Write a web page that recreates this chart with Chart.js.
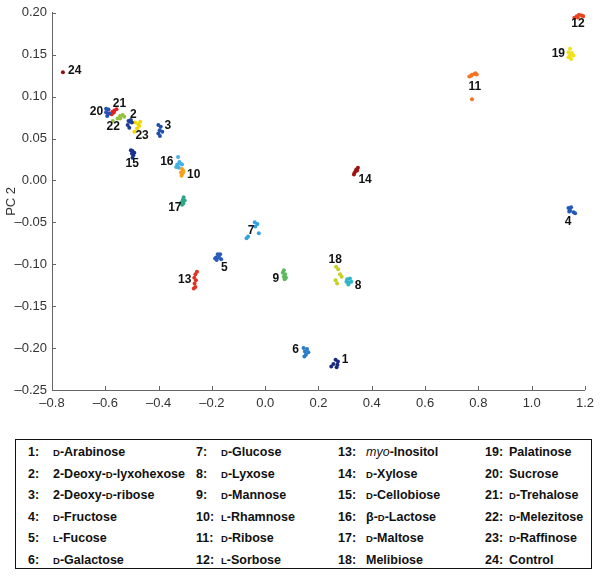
<!DOCTYPE html>
<html>
<head>
<meta charset="utf-8">
<script src="https://cdn.jsdelivr.net/npm/chart.js@4.4.0/dist/chart.umd.min.js"></script>
<style>
body { margin: 0; background: #fff; font-family: "Liberation Sans", Arial, sans-serif; }
#wrap { position: relative; width: 600px; height: 576px; }
#plot { position: absolute; left: 0; top: 0; }
#key { position: absolute; left: 15px; top: 439px; width: 575px; height: 128px; border: 1.5px solid #111;
       font-weight: bold; font-size: 12.5px; color: #111; }
#key span { position: absolute; white-space: nowrap; line-height: 16px; }
#key .sc { font-size: 9.5px; }
#key i { font-weight: normal; }
</style>
</head>
<body>
<div id="wrap">
  <canvas id="plot" width="600" height="430"></canvas>
  <div id="key"></div>
</div>
<script>
// sample names, in legend order (1..24)
var sugarNames = [
  "D-Arabinose", "2-Deoxy-D-lyxohexose", "2-Deoxy-D-ribose", "D-Fructose", "L-Fucose", "D-Galactose",
  "D-Glucose", "D-Lyxose", "D-Mannose", "L-Rhamnose", "D-Ribose", "L-Sorbose",
  "myo-Inositol", "D-Xylose", "D-Cellobiose", "β-D-Lactose", "D-Maltose", "Melibiose",
  "Palatinose", "Sucrose", "D-Trehalose", "D-Melezitose", "D-Raffinose", "Control"
];

var clusterColors = [
  "#1b2a80", "#1d3d9c", "#2050a8", "#2458b8", "#2a5cbc", "#2a7cc8",
  "#33a2e2", "#2fb4c8", "#5dba62", "#f5a21e", "#f77222", "#ea4420",
  "#e23322", "#a01414", "#1a3190", "#45b2e4", "#30a888", "#c6d020",
  "#f0e01c", "#2452b8", "#e22020", "#94c240", "#f2d800", "#901212"
];

// PC1 / PC2 scores, one array per sample
var s1  = [[0.264,-0.214],[0.273,-0.216],[0.256,-0.219],[0.271,-0.220],[0.248,-0.222],[0.268,-0.223]];
var s2  = [[-0.513,0.071],[-0.504,0.072],[-0.500,0.069],[-0.516,0.066],[-0.510,0.063],[-0.507,0.070]];
var s3  = [[-0.401,0.066],[-0.392,0.064],[-0.396,0.060],[-0.386,0.058],[-0.401,0.056],[-0.395,0.053]];
var s4  = [[1.138,-0.033],[1.148,-0.032],[1.144,-0.036],[1.157,-0.038],[1.163,-0.039],[1.141,-0.037]];
var s5  = [[-0.178,-0.088],[-0.169,-0.088],[-0.184,-0.092],[-0.173,-0.092],[-0.165,-0.094],[-0.182,-0.095],[-0.188,-0.093]];
var s6  = [[0.144,-0.200],[0.157,-0.201],[0.149,-0.204],[0.162,-0.205],[0.153,-0.208],[0.147,-0.210]];
var s7  = [[-0.039,-0.050],[-0.029,-0.052],[-0.037,-0.055],[-0.024,-0.063],[-0.064,-0.067],[-0.070,-0.069]];
var s8  = [[0.308,-0.118],[0.318,-0.117],[0.305,-0.121],[0.314,-0.122],[0.323,-0.121],[0.312,-0.124]];
var s9  = [[0.070,-0.107],[0.066,-0.110],[0.075,-0.112],[0.070,-0.115],[0.078,-0.116],[0.073,-0.118]];
var s10 = [[-0.312,0.0136],[-0.308,0.012],[-0.316,0.0096],[-0.310,0.008],[-0.314,0.0057],[-0.307,0.0104]];
var s11 = [[0.766,0.124],[0.776,0.126],[0.785,0.127],[0.794,0.1265],[0.773,0.125],[0.789,0.128],[0.776,0.097]];
var s12 = [[1.160,0.194],[1.169,0.196],[1.178,0.1976],[1.188,0.1968],[1.194,0.196],[1.173,0.1944]];
var s13 = [[-0.256,-0.109],[-0.262,-0.112],[-0.266,-0.116],[-0.260,-0.119],[-0.265,-0.123],[-0.262,-0.127],[-0.268,-0.129]];
var s14 = [[0.348,0.015],[0.342,0.013],[0.339,0.011],[0.335,0.009],[0.333,0.007],[0.345,0.012]];
var s15 = [[-0.504,0.036],[-0.498,0.035],[-0.491,0.033],[-0.500,0.032],[-0.495,0.030],[-0.498,0.027]];
var s16 = [[-0.327,0.028],[-0.322,0.022],[-0.330,0.019],[-0.318,0.020],[-0.334,0.016],[-0.324,0.015],[-0.312,0.019]];
var s17 = [[-0.306,-0.020],[-0.309,-0.023],[-0.302,-0.024],[-0.314,-0.026],[-0.307,-0.0275],[-0.312,-0.029]];
var s18 = [[0.266,-0.103],[0.274,-0.106],[0.281,-0.112],[0.287,-0.115],[0.264,-0.119],[0.270,-0.123]];
var s19 = [[1.144,0.157],[1.138,0.153],[1.151,0.152],[1.144,0.149],[1.157,0.149],[1.138,0.147],[1.148,0.145]];
var s20 = [[-0.597,0.0855],[-0.588,0.0847],[-0.597,0.0815],[-0.591,0.0795],[-0.593,0.0768],[-0.586,0.080]];
var s21 = [[-0.581,0.080],[-0.573,0.082],[-0.566,0.0835],[-0.558,0.085],[-0.576,0.079],[-0.568,0.081]];
var s22 = [[-0.572,0.071],[-0.554,0.074],[-0.545,0.077],[-0.535,0.078],[-0.529,0.076],[-0.544,0.074]];
var s23 = [[-0.488,0.069],[-0.469,0.070],[-0.473,0.065],[-0.481,0.062],[-0.491,0.058],[-0.476,0.067]];
var s24 = [[-0.759,0.129]];
var pcScores = [s1, s2, s3, s4, s5, s6, s7, s8, s9, s10, s11, s12,
                s13, s14, s15, s16, s17, s18, s19, s20, s21, s22, s23, s24];

// where each number label sits, in PC units
var labelAt = [
  [0.300,-0.2135], [-0.495,0.079], [-0.365,0.065], [1.137,-0.049], [-0.153,-0.1045], [0.1145,-0.2017],
  [-0.053,-0.0595], [0.349,-0.126], [0.040,-0.1175], [-0.268,0.007], [0.787,0.112], [1.174,0.187],
  [-0.302,-0.1187], [0.375,0.001], [-0.499,0.020], [-0.369,0.022], [-0.339,-0.033], [0.263,-0.094],
  [1.100,0.151], [-0.633,0.0815], [-0.547,0.092], [-0.570,0.064], [-0.462,0.053], [-0.7145,0.131]
];

var xTickLabels = ["–0.8", "–0.6", "–0.4", "–0.2", "0.0", "0.2", "0.4", "0.6", "0.8", "1.0", "1.2"];
var yTickLabels = ["–0.25", "–0.20", "–0.15", "–0.10", "–0.05", "0.00", "0.05", "0.10", "0.15", "0.20"];

var FONT = '"Liberation Sans", Arial, sans-serif';

var pointNumbers = {
  id: 'pointNumbers',
  afterDatasetsDraw: function (chart) {
    var ctx = chart.ctx, xs = chart.scales.x, ys = chart.scales.y;
    ctx.save();
    ctx.font = 'bold 12px ' + FONT;
    ctx.fillStyle = '#111';
    ctx.textAlign = 'center';
    ctx.textBaseline = 'middle';
    labelAt.forEach(function (p, i) {
      ctx.fillText(String(i + 1), xs.getPixelForValue(p[0]), ys.getPixelForValue(p[1]));
    });
    ctx.restore();
  },
  afterDraw: function (chart) {
    var ctx = chart.ctx, xs = chart.scales.x, ys = chart.scales.y;
    ctx.save();
    // inward tick marks
    ctx.strokeStyle = '#666';
    ctx.lineWidth = 1;
    ctx.beginPath();
    xs.ticks.forEach(function (t) {
      var px = Math.round(xs.getPixelForValue(t.value)) + 0.5;
      ctx.moveTo(px, ys.bottom);
      ctx.lineTo(px, ys.bottom - 4);
    });
    ys.ticks.forEach(function (t) {
      var py = Math.round(ys.getPixelForValue(t.value)) + 0.5;
      ctx.moveTo(xs.left, py);
      ctx.lineTo(xs.left + 4, py);
    });
    ctx.stroke();
    // PC1 title
    ctx.font = '13px ' + FONT;
    ctx.fillStyle = '#333';
    ctx.textAlign = 'center';
    ctx.textBaseline = 'middle';
    ctx.fillText('PC1', chart.width / 2 - 5, xs.bottom + 30);
    ctx.restore();
  }
};

new Chart(document.getElementById('plot').getContext('2d'), {
  type: 'scatter',
  data: {
    datasets: pcScores.map(function (pts, i) {
      return {
        label: sugarNames[i],
        data: pts,
        backgroundColor: clusterColors[i],
        borderWidth: 0,
        pointRadius: 2,
        pointHoverRadius: 2
      };
    })
  },
  options: {
    responsive: false,
    animation: false,
    events: [],
    layout: { padding: { top: 10, right: 10, left: 0, bottom: 0 } },
    plugins: { legend: { display: false }, tooltip: { enabled: false } },
    scales: {
      x: {
        type: 'linear', min: -0.8, max: 1.2,
        afterFit: function (s) { s.height = 40; },
        ticks: {
          stepSize: 0.2, padding: 6, color: '#333', maxRotation: 0,
          font: { family: FONT, size: 13 },
          callback: function (v, i) { return xTickLabels[i]; }
        },
        grid: { drawOnChartArea: false, drawTicks: false },
        border: { color: '#666', width: 1 }
      },
      y: {
        type: 'linear', min: -0.25, max: 0.20,
        afterFit: function (s) { s.width = 52; },
        ticks: {
          stepSize: 0.05, padding: 5, color: '#333',
          font: { family: FONT, size: 13 },
          callback: function (v, i) { return yTickLabels[i]; }
        },
        title: { display: true, text: 'PC 2', color: '#333', font: { family: FONT, size: 13 }, padding: { top: 4, bottom: 0 } },
        grid: { drawOnChartArea: false, drawTicks: false },
        border: { color: '#666', width: 1 }
      }
    }
  },
  plugins: [pointNumbers]
});

// legend box: four columns of six
var key = document.getElementById('key');
var numX = [12, 180, 322, 469];
var nameX = [37, 205, 350, 493];
function nameHtml(n) {
  return n.replace(/^myo/, '<i>myo</i>')
          .replace(/(^|-)([DL])(?=-)/g, '$1<span class="sc" style="position:static">$2</span>');
}
sugarNames.forEach(function (n, i) {
  var col = Math.floor(i / 6), row = i % 6;
  var top = 4 + row * 21.6;
  var a = document.createElement('span');
  a.style.left = numX[col] + 'px';
  a.style.top = top + 'px';
  a.textContent = (i + 1) + ':';
  var b = document.createElement('span');
  b.style.left = nameX[col] + 'px';
  b.style.top = top + 'px';
  b.innerHTML = nameHtml(n);
  key.appendChild(a);
  key.appendChild(b);
});
</script>
</body>
</html>
